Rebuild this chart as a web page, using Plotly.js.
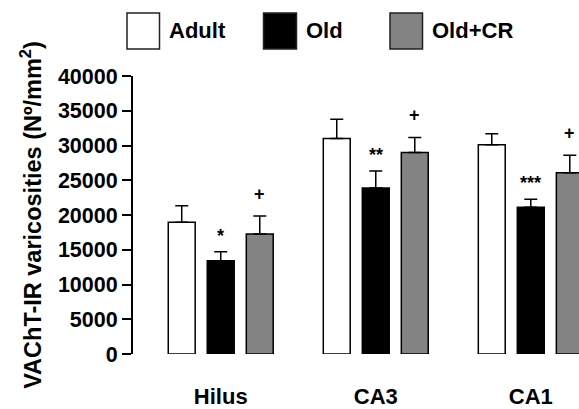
<!DOCTYPE html>
<html>
<head>
<meta charset="utf-8">
<script src="https://cdn.plot.ly/plotly-3.0.1.min.js"></script>
<style>html,body{margin:0;padding:0;background:#fff;}#chart{width:579px;height:409px;}</style>
</head>
<body>
<div id="chart"></div>
<script>
const categories = ['Hilus', 'CA3', 'CA1'];
const groupNames = ['Adult', 'Old', 'Old+CR'];
const adult = [18950, 31000, 30100];
const adultErr = [2380, 2780, 1580];
const old = [13400, 23900, 21100];
const oldErr = [1330, 2440, 1150];
const oldCR = [17270, 29000, 26070];
const oldCRErr = [2590, 2160, 2540];
const oldMarks = ['*', '**', '***'];
const oldCRMarks = ['+', '+', '+'];
const yTickVals = [0, 5000, 10000, 15000, 20000, 25000, 30000, 35000, 40000];

const fills = ['#ffffff', '#000000', '#838383'];
const series = [adult, old, oldCR];
const errs = [adultErr, oldErr, oldCRErr];

const W = 579, H = 409;
const mL = 133, mR = 0, mT = 76, mB = 55;
const plotW = W - mL - mR, plotH = H - mT - mB;
const bargap = 0.245, bargroupgap = 0.31;
const slot = (1 - bargap) / 3;

const traces = series.map((vals, j) => ({
  type: 'bar',
  name: groupNames[j],
  x: categories,
  y: vals,
  marker: {color: fills[j], line: {color: '#000', width: 1.5}},
  error_y: {type: 'data', symmetric: false, array: errs[j], arrayminus: errs[j].map(() => 0),
            color: '#000', thickness: 1.5, width: 6.5},
  showlegend: false,
  hoverinfo: 'skip'
}));

const font = 'Liberation Sans, Arial, sans-serif';
const px2x = p => (p - mL) / plotW;
const px2y = p => (H - mB - p) / plotH;

const annotations = [];
const markSets = [[1, oldMarks], [2, oldCRMarks]];
markSets.forEach(([j, marks]) => {
  marks.forEach((m, i) => {
    const isStar = m.indexOf('*') >= 0;
    annotations.push({
      x: i + (j - 1) * slot, xref: 'x',
      y: series[j][i] + errs[j][i], yref: 'y',
      text: m, showarrow: false, xanchor: 'center', yanchor: 'middle',
      yshift: isStar ? 16 : 22,
      font: {family: font, size: 18, color: '#000', weight: 'bold'}
    });
  });
});

// legend (custom, large swatches)
const legendBoxes = [[127, 159.5], [263.5, 296.5], [390, 422.5]];
const shapes = [];
legendBoxes.forEach((b, j) => {
  shapes.push({type: 'rect', xref: 'paper', yref: 'paper',
    x0: px2x(b[0]), x1: px2x(b[1]), y0: px2y(49), y1: px2y(13),
    fillcolor: fills[j], line: {color: '#222', width: 1.5}});
  annotations.push({xref: 'paper', yref: 'paper', x: px2x(b[1] + 7), y: px2y(31),
    xanchor: 'left', yanchor: 'middle', text: groupNames[j], showarrow: false,
    font: {family: font, size: 22, color: '#000', weight: 'bold'}});
});

const layout = {
  width: W, height: H,
  margin: {l: mL, r: mR, t: mT, b: mB, pad: 0},
  paper_bgcolor: '#fff', plot_bgcolor: '#fff',
  barmode: 'group', bargap: bargap, bargroupgap: bargroupgap,
  showlegend: false,
  xaxis: {
    type: 'category', range: [-0.566, 2.311],
    showline: false, showgrid: false, zeroline: false,
    ticks: 'outside', ticklen: 23, tickcolor: 'rgba(0,0,0,0)',
    tickfont: {family: font, size: 22, color: '#000', weight: 'bold'}
  },
  yaxis: {
    range: [0, 40000], tickvals: yTickVals, tickformat: 'd',
    showline: true, linecolor: '#000', linewidth: 2,
    ticks: 'outside', ticklen: 9, tickwidth: 2, tickcolor: '#000',
    showgrid: false, zeroline: false,
    tickfont: {family: font, size: 21.5, color: '#000', weight: 'bold'},
    title: {text: 'VAChT-IR varicosities (Nº/mm<sup>2</sup>)', standoff: 10,
            font: {family: font, size: 23.5, color: '#000', weight: 'bold'}}
  },
  shapes: shapes,
  annotations: annotations
};

Plotly.newPlot('chart', traces, layout, {displayModeBar: false, staticPlot: true});
</script>
</body>
</html>
